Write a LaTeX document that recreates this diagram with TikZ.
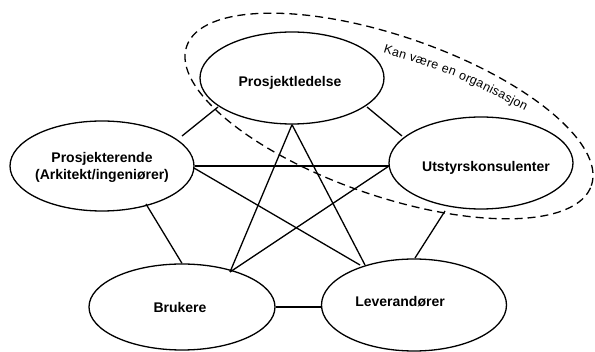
\documentclass[tikz,border=0pt]{standalone}
\usepackage{fontspec}
\setmainfont{Liberation Sans}
\usetikzlibrary{calc,shapes.geometric,decorations.text}
\begin{document}
\begin{tikzpicture}[x=1pt,y=-1pt,
  ell/.style={draw, ellipse, line width=1.3pt, inner sep=0pt, minimum width=184pt, minimum height=92pt},
  lbl/.style={font=\bfseries\fontsize{14}{17}\selectfont, inner sep=0pt},
  conn/.style={line width=1.3pt},
  grp/.style={line width=1.3pt, dash pattern=on 8pt off 5pt}]
\useasboundingbox (0,0) rectangle (595,352);
% group outline
\draw[grp, rotate around={-19:(389,116)}] (389,116) ellipse [x radius=214pt, y radius=80pt];
{\fontsize{12.5}{15}\selectfont
\path[font=\fontsize{12.5}{15}\selectfont, decorate, decoration={text along path, text align=fit to path,
  text={|\fontsize{12.5}{15}\selectfont|Kan være en organisasjon}}]
  (383,53) .. controls (455,75) .. (525,111);
}
% nodes
\node[ell] (pl) at (292,78) {};
\node[ell, minimum height=90pt] (pr) at (102,166) {};
\node[ell] (us) at (481,163) {};
\node[ell, minimum width=186pt, minimum height=86pt] (br) at (182,307) {};
\node[ell, minimum width=185pt] (lv) at (414,305) {};
% labels
\node[lbl, anchor=base] (plt) at (290,87) {Prosjektledelse};
\node[lbl, anchor=base] (ust) at (486,172) {Utstyrskonsulenter};
\node[lbl, align=center] (prt) at (102,167) {Prosjekterende\\(Arkitekt/ingeniører)};
\node[lbl, anchor=base] (brt) at (180,313) {Brukere};
\node[lbl, anchor=base] (lvt) at (400,307) {Leverandører};
% connectors
\draw[conn] ($(pr)+(80,-30)$) -- ($(pl)+(-74,29)$);
\draw[conn] ($(pl)+(75,29)$) -- ($(us)+(-79,-27)$);
\draw[conn] (pr.east) -- ($(us)+(-92,3)$);
\draw[conn] (pl.south) -- ($(br)+(48,-35)$);
\draw[conn] (pl.south) -- ($(lv)+(-49,-40)$);
\draw[conn] ($(pr)+(92,2)$) -- ($(lv)+(-54,-40)$);
\draw[conn] ($(us)+(-92,3)$) -- ($(br)+(48,-35)$);
\draw[conn] ($(pr)+(44,38)$) -- (br.north);
\draw[conn] (br.east) -- (br.east -| lv.west);
\draw[conn] ($(us)+(-36,48)$) -- ($(lv)+(1,-47)$);
\end{tikzpicture}
\end{document}
